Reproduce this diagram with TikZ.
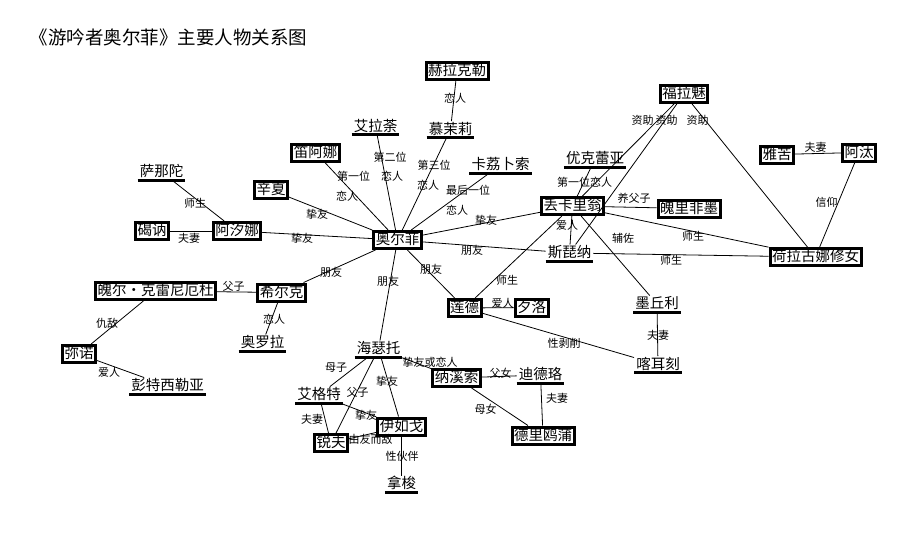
\documentclass[tikz,border=0pt]{standalone}
\usepackage{fontspec}
\setmainfont{Noto Sans CJK SC}
\begin{document}
\begin{tikzpicture}[x=1pt,y=-1pt,
  box/.style={draw, line width=3pt, inner xsep=2pt, inner ysep=0pt, minimum height=17pt,
    font=\fontsize{14.5}{14.5}\selectfont, text height=12pt, text depth=2.5pt},
  ul/.style={inner xsep=2pt, inner ysep=1pt,
    font=\fontsize{14.5}{14.5}\selectfont, text height=12pt, text depth=2.5pt},
  uline/.style={line width=3pt},
  lbl/.style={font=\fontsize{11}{11}\selectfont, inner sep=0pt},
  rel/.style={line width=0.8pt},
  ttl/.style={font=\fontsize{18.5}{18.5}\selectfont, inner sep=0pt}]
\useasboundingbox[fill=white] (0,0) rectangle (914,549);

\node[ttl] (title) at (168.5,37.5) {《游吟者奥尔菲》主要人物关系图};

% boxed nodes
\node[box] (hlkl) at (457,70.5) {赫拉克勒};
\node[box] (dan) at (315.5,152.5) {笛阿娜};
\node[box] (xx) at (271,190) {辛夏};
\node[box] (axn) at (237,231) {阿汐娜};
\node[box] (jn) at (152,231) {碣讷};
\node[box] (aef) at (397.5,240) {奥尔菲};
\node[box] (dkl) at (572.5,206) {丢卡里翁};
\node[box] (plfm) at (689,208.5) {魄里非墨};
\node[box] (flm) at (684,94) {福拉魅};
\node[box] (yk) at (777,154.5) {雅苦};
\node[box] (at) at (859,152.5) {阿汰};
\node[box] (hlgn) at (815.5,257) {荷拉古娜修女};
\node[box] (pekl) at (155.5,291) {魄尔·克雷尼厄杜};
\node[box] (xek) at (281.5,292.5) {希尔克};
\node[box] (ld) at (464.5,308) {莲德};
\node[box] (xl) at (531.5,307.5) {夕洛};
\node[box] (mn) at (79,354) {弥诺};
\node[box] (nxs) at (456.5,378) {纳溪索};
\node[box] (yrg) at (401.5,426.5) {伊如戈};
\node[box] (rf) at (331,443) {锐夫};
\node[box] (dlop) at (543,435.5) {德里鸥蒲};

% underlined nodes
\node[ul] (mml) at (450.5,129.5) {慕茉莉};
\node[ul] (alt) at (375.5,126.5) {艾拉荼};
\node[ul] (klbs) at (500.5,165) {卡荔卜索};
\node[ul] (snt) at (161.5,172) {萨那陀};
\node[ul] (ykly) at (595,159) {优克蕾亚};
\node[ul] (spn) at (569.5,253) {斯琵纳};
\node[ul] (ayl) at (262.5,343) {奥罗拉};
\node[ul] (mql) at (657,304) {墨丘利};
\node[ul] (kek) at (658,364.5) {喀耳刻};
\node[ul] (ptxl) at (167.5,386) {彭特西勒亚};
\node[ul] (hst) at (378.5,349) {海瑟托};
\node[ul] (ddl) at (540.5,375) {迪德珞};
\node[ul] (agt) at (319,395) {艾格特};
\node[ul] (ns) at (401.5,484) {拿梭};
\foreach \n in {mml,alt,klbs,snt,ykly,spn,ayl,mql,kek,ptxl,hst,ddl,agt,ns}
  \draw[uline] (\n.south west) -- (\n.south east);

% connectors
\draw[rel] (hlkl) -- (mml);
\draw[rel] (mml) -- (aef);
\draw[rel] (alt) -- (aef);
\draw[rel] (dan) -- (aef);
\draw[rel] (klbs) -- (aef);
\draw[rel] (xx) -- (aef);
\draw[rel] (axn) -- (aef);
\draw[rel] (aef) -- (dkl);
\draw[rel] (aef) -- (spn);
\draw[rel] (aef) -- (ld);
\draw[rel] (aef) -- (hst);
\draw[rel] (aef) -- (xek);
\draw[rel] (snt) -- (axn);
\draw[rel] (jn) -- (axn);
\draw[rel] (pekl) -- (xek);
\draw[rel] (xek) -- (ayl);
\draw[rel] (pekl) -- (mn);
\draw[rel] (mn) -- (ptxl);
\draw[rel] (ykly) -- (dkl);
\draw[rel] (flm) -- (dkl);
\draw[rel] (flm) -- (spn);
\draw[rel] (flm) -- (hlgn);
\draw[rel] (dkl) -- (plfm);
\draw[rel] (dkl) -- (hlgn);
\draw[rel] (dkl) -- (spn);
\draw[rel] (dkl) -- (mql);
\draw[rel] (spn) -- (hlgn);
\draw[rel] (yk) -- (at);
\draw[rel] (at) -- (hlgn);
\draw[rel] (dkl) -- (ld);
\draw[rel] (ld) -- (xl);
\draw[rel] (ld) -- (kek);
\draw[rel] (mql) -- (kek);
\draw[rel] (hst) -- (nxs);
\draw[rel] (nxs) -- (ddl);
\draw[rel] (nxs) -- (dlop);
\draw[rel] (ddl) -- (dlop);
\draw[rel] (hst) -- (agt);
\draw[rel] (hst) -- (rf);
\draw[rel] (hst) -- (yrg);
\draw[rel] (agt) -- (rf);
\draw[rel] (agt) -- (yrg);
\draw[rel] (rf) -- (yrg);
\draw[rel] (yrg) -- (ns);

% labels
\node[lbl] (l1) at (455,98) {恋人};
\node[lbl] (l2a) at (434,165) {第三位};
\node[lbl] (l2b) at (428,185) {恋人};
\node[lbl] (l3a) at (390,157) {第二位};
\node[lbl] (l3b) at (392,176) {恋人};
\node[lbl] (l4a) at (353.5,176) {第一位};
\node[lbl] (l4b) at (347,196) {恋人};
\node[lbl] (l5a) at (468,190) {最后一位};
\node[lbl] (l5b) at (457,210) {恋人};
\node[lbl] (l6) at (317,214) {挚友};
\node[lbl] (l7) at (302,238) {挚友};
\node[lbl] (l8) at (486,220) {挚友};
\node[lbl] (l9) at (472,250) {朋友};
\node[lbl] (l10) at (431,269) {朋友};
\node[lbl] (l11) at (388,281) {朋友};
\node[lbl] (l12) at (331,272) {朋友};
\node[lbl] (l13) at (195,203) {师生};
\node[lbl] (l14) at (189,238) {夫妻};
\node[lbl] (l15) at (233.5,286) {父子};
\node[lbl] (l16) at (274,319) {恋人};
\node[lbl] (l17) at (107,323) {仇敌};
\node[lbl] (l18) at (109,372) {爱人};
\node[lbl] (l19) at (584.5,182) {第一位恋人};
\node[lbl] (l20) at (642.5,120) {资助};
\node[lbl] (l21) at (666.5,120) {资助};
\node[lbl] (l22) at (697.5,120) {资助};
\node[lbl] (l23) at (634,198) {养父子};
\node[lbl] (l24) at (693,236) {师生};
\node[lbl] (l25) at (567,225) {爱人};
\node[lbl] (l26) at (623,238) {辅佐};
\node[lbl] (l27) at (671,260) {师生};
\node[lbl] (l28) at (815.5,147) {夫妻};
\node[lbl] (l29) at (826.5,202) {信仰};
\node[lbl] (l30) at (507,280) {师生};
\node[lbl] (l31) at (502.5,303) {爱人};
\node[lbl] (l32) at (564,343) {性剥削};
\node[lbl] (l33) at (658,335) {夫妻};
\node[lbl] (l34) at (430,362) {挚友或恋人};
\node[lbl] (l35) at (500.5,373) {父女};
\node[lbl] (l36) at (485.5,409) {母女};
\node[lbl] (l37) at (557,398) {夫妻};
\node[lbl] (l38) at (336,368) {母子};
\node[lbl] (l39) at (357.5,392) {父子};
\node[lbl] (l40) at (387,381) {挚友};
\node[lbl] (l41) at (312,419) {夫妻};
\node[lbl] (l42) at (366,415) {挚友};
\node[lbl] (l43) at (370.5,439) {由友而敌};
\node[lbl] (l44) at (402,456) {性伙伴};
\end{tikzpicture}
\end{document}
